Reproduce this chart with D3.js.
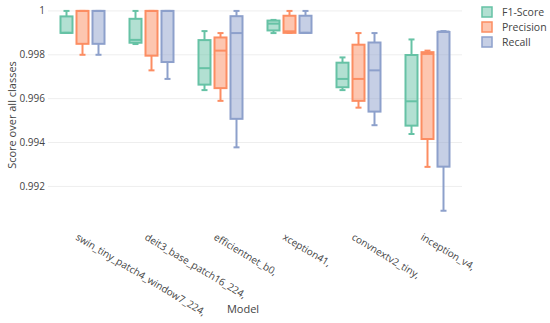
<!DOCTYPE html>
<html><head><meta charset="utf-8">
<script src="https://cdn.jsdelivr.net/npm/d3@7"></script>
<style>body{margin:0;background:#fff}svg{display:block}</style>
</head><body>
<script>
const models = ["swin_tiny_patch4_window7_224,","deit3_base_patch16_224,","efficientnet_b0,","xception41,","convnextv2_tiny,","inception_v4,"];
const seriesNames = ["F1-Score","Precision","Recall"];
const seriesColors = ["#66c2a5","#fc8d62","#8da0cb"];
// [min, q1, median, q3, max]
const f1Stats = [
  [0.9990,0.9990,0.9990,0.99975,1.0],
  [0.99849,0.99855,0.99868,0.99964,1.0],
  [0.99639,0.99664,0.99739,0.99867,0.99908],
  [0.99899,0.99911,0.99942,0.99956,0.99959],
  [0.99639,0.99652,0.99690,0.99764,0.99788],
  [0.99439,0.99477,0.99588,0.99799,0.99870]
];
const precisionStats = [
  [0.9980,0.9985,1.0,1.0,1.0],
  [0.99729,0.99796,1.0,1.0,1.0],
  [0.99590,0.99648,0.99819,0.99879,0.99899],
  [0.9990,0.9990,0.99907,0.99978,1.0],
  [0.99559,0.99590,0.99690,0.99846,0.99899],
  [0.99289,0.99416,0.99804,0.99812,0.99819]
];
const recallStats = [
  [0.9980,0.9985,1.0,1.0,1.0],
  [0.99690,0.99767,1.0,1.0,1.0],
  [0.99378,0.99508,0.99899,0.99976,1.0],
  [0.9990,0.9990,0.9990,0.99978,1.0],
  [0.99479,0.99541,0.99729,0.99856,0.99899],
  [0.99089,0.99290,0.99906,0.99904,0.99908]
];
const yTicks = [0.992,0.994,0.996,0.998,1];
const allStats = [f1Stats, precisionStats, recallStats];

const W=550,H=323;
const m={l:48,r:88,t:5,b:98};
const svg=d3.select("body").append("svg").attr("width",W).attr("height",H);
const font="'Open Sans', sans-serif";
const x=d3.scaleBand().domain(models).range([m.l,W-m.r]).paddingInner(0).paddingOuter(0);
const y=d3.scaleLinear().domain([0.99024,1.00027]).range([H-m.b,m.t]);

// grid
svg.append("g").selectAll("line").data(yTicks).join("line")
  .attr("x1",m.l).attr("x2",W-m.r).attr("y1",d=>y(d)).attr("y2",d=>y(d))
  .attr("stroke","#eee").attr("stroke-width",1);

// y axis labels
svg.append("g").selectAll("text").data(yTicks).join("text")
  .attr("x",m.l-3).attr("y",d=>y(d)).attr("dy","0.35em").attr("text-anchor","end")
  .attr("font-family",font).attr("font-size",10).attr("fill","#444")
  .text(d=>d===1?"1":d3.format(".3f")(d));

svg.append("text").attr("transform",`translate(12,${(m.t+H-m.b)/2}) rotate(-90)`)
  .attr("text-anchor","middle").attr("dy","0.35em")
  .attr("font-family",font).attr("font-size",11).attr("fill","#444").text("Score over all classes");

// x labels
svg.append("g").selectAll("text").data(models).join("text")
  .attr("transform",d=>`translate(${x(d)+x.bandwidth()/2-4},${H-m.b+8}) rotate(31)`)
  .attr("text-anchor","start").attr("dy","0.7em")
  .attr("font-family",font).attr("font-size",10).attr("fill","#444").text(d=>d);

svg.append("text").attr("x",243).attr("y",313).attr("text-anchor","middle")
  .attr("font-family",font).attr("font-size",11).attr("fill","#444").text("Model");

// boxes
const boxW=12, step=16, capW=6;
allStats.forEach((stats,si)=>{
  const col=seriesColors[si];
  const g=svg.append("g");
  stats.forEach((s,i)=>{
    const cx=x(models[i])+x.bandwidth()/2+(si-1)*step;
    const [mn,q1,md,q3,mx]=s;
    g.append("line").attr("x1",cx).attr("x2",cx).attr("y1",y(mx)).attr("y2",y(q3)).attr("stroke",col).attr("stroke-width",2);
    g.append("line").attr("x1",cx).attr("x2",cx).attr("y1",y(q1)).attr("y2",y(mn)).attr("stroke",col).attr("stroke-width",2);
    g.append("line").attr("x1",cx-capW/2).attr("x2",cx+capW/2).attr("y1",y(mx)).attr("y2",y(mx)).attr("stroke",col).attr("stroke-width",2);
    g.append("line").attr("x1",cx-capW/2).attr("x2",cx+capW/2).attr("y1",y(mn)).attr("y2",y(mn)).attr("stroke",col).attr("stroke-width",2);
    g.append("rect").attr("x",cx-boxW/2).attr("width",boxW)
      .attr("y",y(Math.max(q1,q3))).attr("height",Math.abs(y(q1)-y(q3)))
      .attr("fill",col).attr("fill-opacity",0.5).attr("stroke",col).attr("stroke-width",2);
    g.append("line").attr("x1",cx-boxW/2).attr("x2",cx+boxW/2).attr("y1",y(md)).attr("y2",y(md)).attr("stroke",col).attr("stroke-width",2);
  });
});

// legend
const lg=svg.append("g");
seriesNames.forEach((n,i)=>{
  const yy=12+i*15;
  lg.append("rect").attr("x",482).attr("y",yy-5).attr("width",10).attr("height",10)
    .attr("fill",seriesColors[i]).attr("fill-opacity",0.5).attr("stroke",seriesColors[i]).attr("stroke-width",1.5);
  lg.append("text").attr("x",502).attr("y",yy).attr("dy","0.35em")
    .attr("font-family",font).attr("font-size",10.5).attr("fill","#444").text(n);
});
</script>
</body></html>
